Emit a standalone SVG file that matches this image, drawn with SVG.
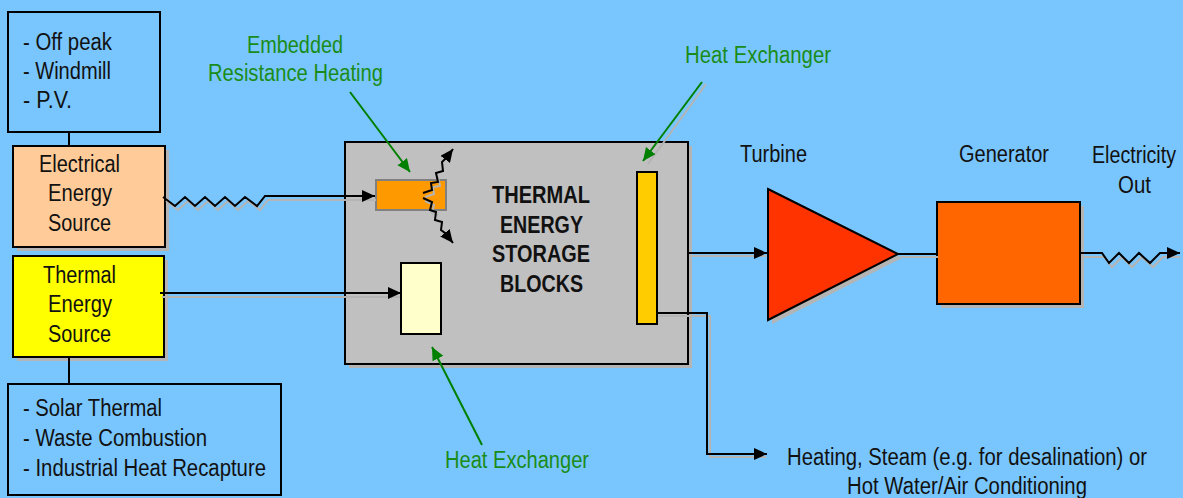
<svg xmlns="http://www.w3.org/2000/svg" width="1183" height="498" viewBox="0 0 1183 498">
<defs>
<marker id="ah" markerUnits="userSpaceOnUse" markerWidth="14" markerHeight="12" refX="13" refY="6" orient="auto"><path d="M0,0 L13,6 L0,12 z" fill="#000"/></marker>
<marker id="ahg" markerUnits="userSpaceOnUse" markerWidth="14" markerHeight="14" refX="13" refY="6" orient="auto"><path d="M0,0 L13,6 L0,12 z" fill="#008000"/></marker>
<style>
.t{font-family:"Liberation Sans",Arial,sans-serif;font-size:23px;fill:#111;}
.g{fill:#1a8c1a;}
.b{font-weight:bold;}
.box{stroke:#000;stroke-width:2;}
.sh{fill:#b4b4b4;stroke:none;}
.ln{fill:none;stroke:#000;stroke-width:2;}
.lsh{fill:none;stroke:#b4b4b4;stroke-width:2;}
.gl{fill:none;stroke:#008000;stroke-width:2;}
</style>
</defs>
<rect width="1183" height="498" fill="#79C6FE"/>

<g id="electric-sources">
<rect class="box" x="8" y="12" width="152" height="120" fill="#79C6FE"/>
<text class="t" x="23" y="50" textLength="89" lengthAdjust="spacingAndGlyphs">- Off peak</text>
<text class="t" x="23" y="79" textLength="88" lengthAdjust="spacingAndGlyphs">- Windmill</text>
<text class="t" x="23" y="108" textLength="49" lengthAdjust="spacingAndGlyphs">- P.V.</text>
</g>

<g id="electrical-energy-source">
<rect class="sh" x="17" y="150" width="152" height="101"/>
<rect class="box" x="13" y="146" width="152" height="101" fill="#FFCC99"/>
<text class="t" x="39" y="172" textLength="81" lengthAdjust="spacingAndGlyphs">Electrical</text>
<text class="t" x="48" y="201" textLength="64" lengthAdjust="spacingAndGlyphs">Energy</text>
<text class="t" x="48" y="231" textLength="63" lengthAdjust="spacingAndGlyphs">Source</text>
</g>

<g id="thermal-energy-source">
<rect class="sh" x="17" y="260" width="151" height="101"/>
<rect class="box" x="13" y="256" width="151" height="101" fill="#FFFF00"/>
<text class="t" x="43" y="283" textLength="73" lengthAdjust="spacingAndGlyphs">Thermal</text>
<text class="t" x="48" y="312" textLength="64" lengthAdjust="spacingAndGlyphs">Energy</text>
<text class="t" x="48" y="342" textLength="63" lengthAdjust="spacingAndGlyphs">Source</text>
</g>

<g id="thermal-sources">
<rect class="box" x="8" y="384" width="273" height="111" fill="#79C6FE"/>
<text class="t" x="23" y="416" textLength="139" lengthAdjust="spacingAndGlyphs">- Solar Thermal</text>
<text class="t" x="23" y="446" textLength="184" lengthAdjust="spacingAndGlyphs">- Waste Combustion</text>
<text class="t" x="23" y="476" textLength="243" lengthAdjust="spacingAndGlyphs">- Industrial Heat Recapture</text>
</g>

<g id="storage-blocks">
<rect class="sh" x="349" y="146" width="343" height="222"/>
<rect class="box" x="345" y="142" width="343" height="222" fill="#C0C0C0"/>
<text class="t b" x="492" y="203" textLength="98" lengthAdjust="spacingAndGlyphs">THERMAL</text>
<text class="t b" x="500" y="233" textLength="83" lengthAdjust="spacingAndGlyphs">ENERGY</text>
<text class="t b" x="492" y="262" textLength="98" lengthAdjust="spacingAndGlyphs">STORAGE</text>
<text class="t b" x="500" y="292" textLength="83" lengthAdjust="spacingAndGlyphs">BLOCKS</text>
</g>

<g id="resistance-heater">
<rect x="376" y="180" width="70" height="30" fill="#FF9900" stroke="#808080" stroke-width="2"/>
<polyline points="425,197 434,194 433,187 440,186 438,177" fill="none" stroke="#b4b4b4" stroke-width="2"/>
<polyline points="425,201 434,205 432,213 438,215" fill="none" stroke="#b4b4b4" stroke-width="2"/>
</g>

<g id="heat-exchanger-in">
<rect class="box" x="401" y="263" width="40" height="71" fill="#FFFFCC"/>
</g>

<g id="heat-exchanger-out">
<rect class="box" x="637" y="172" width="20" height="152" fill="#FFCC00"/>
</g>

<g id="turbine">
<polygon class="sh" points="772,194 902,258 772,324"/>
<polygon class="box" points="768,189 898,254 768,320" fill="#FF3300"/>
<text class="t" x="740" y="162" textLength="67" lengthAdjust="spacingAndGlyphs">Turbine</text>
</g>

<g id="generator">
<rect class="sh" x="941" y="206" width="143" height="102"/>
<rect class="box" x="937" y="202" width="143" height="102" fill="#FF6600"/>
<text class="t" x="959" y="162" textLength="90" lengthAdjust="spacingAndGlyphs">Generator</text>
</g>

<g id="electricity-out">
<text class="t" x="1092" y="163" textLength="84" lengthAdjust="spacingAndGlyphs">Electricity</text>
<text class="t" x="1118" y="193" textLength="33" lengthAdjust="spacingAndGlyphs">Out</text>
</g>

<g id="heat-output">
<text class="t" x="787" y="465" textLength="360" lengthAdjust="spacingAndGlyphs">Heating, Steam (e.g. for desalination) or</text>
<text class="t" x="847" y="494" textLength="240" lengthAdjust="spacingAndGlyphs">Hot Water/Air Conditioning</text>
</g>

<g id="labels">
<text class="t g" x="247" y="53" textLength="96" lengthAdjust="spacingAndGlyphs">Embedded</text>
<text class="t g" x="208" y="81" textLength="175" lengthAdjust="spacingAndGlyphs">Resistance Heating</text>
<text class="t g" x="685" y="63" textLength="146" lengthAdjust="spacingAndGlyphs">Heat Exchanger</text>
<text class="t g" x="445" y="468" textLength="144" lengthAdjust="spacingAndGlyphs">Heat Exchanger</text>
</g>

<g id="connectors">
<polyline class="lsh" points="166,201 178,210 188,201 198,210 208,201 218,210 228,201 238,210 248,201 260,210 268,200 376,200"/>
<line class="lsh" x1="162" y1="297" x2="400" y2="297"/>
<line class="lsh" x1="690" y1="256" x2="766" y2="256"/>
<line class="lsh" x1="900" y1="257" x2="938" y2="257"/>
<polyline class="lsh" points="1082,257 1104,257 1112,267 1122,257 1132,267 1142,257 1153,267 1163,257 1180,257"/>
<polyline class="lsh" points="659,316 710,316 710,457 766,457"/>
<line x1="706" y1="84" x2="648" y2="164" stroke="#b4b4b4" stroke-width="2"/>
<line class="box" x1="69" y1="132" x2="69" y2="146"/>
<line class="box" x1="69" y1="357" x2="69" y2="384"/>
<polyline class="ln" points="163,197 175,206 185,197 195,206 205,197 215,206 225,197 235,206 245,197 257,206 265,196 375,196" marker-end="url(#ah)"/>
<line class="ln" x1="160" y1="293" x2="401" y2="293" marker-end="url(#ah)"/>
<polyline class="ln" points="423,193 432,190 431,183 438,182 436,173 443,171 442,162 447,157 453,149" marker-end="url(#ah)"/>
<polyline class="ln" points="423,198 432,202 430,210 436,212 435,220 442,222 441,230 445,233 453,243" marker-end="url(#ah)"/>
<line class="ln" x1="688" y1="253" x2="767" y2="253" marker-end="url(#ah)"/>
<line class="ln" x1="898" y1="254" x2="937" y2="254"/>
<polyline class="ln" points="1080,253 1102,253 1109,263 1119,253 1129,263 1139,253 1150,263 1160,253 1180,253" marker-end="url(#ah)"/>
<polyline class="ln" points="657,313 707,313 707,454 767,454" marker-end="url(#ah)"/>
<line class="gl" x1="350" y1="92" x2="410" y2="172" marker-end="url(#ahg)"/>
<line class="gl" x1="702" y1="82" x2="643" y2="161" marker-end="url(#ahg)"/>
<line class="gl" x1="482" y1="445" x2="432" y2="347" marker-end="url(#ahg)"/>
</g>
</svg>
